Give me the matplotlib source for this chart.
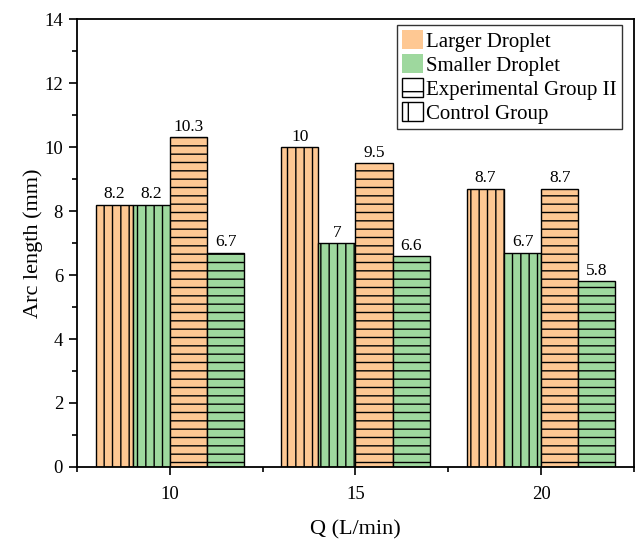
import numpy as np
import matplotlib.pyplot as plt
from matplotlib.patches import Patch
from matplotlib.ticker import MultipleLocator

plt.rcParams['font.family'] = ['Liberation Serif', 'DejaVu Serif']
plt.rcParams['hatch.color'] = '#333333'
plt.rcParams['hatch.linewidth'] = 1.0

flow = [10, 15, 20]
larger_control = [8.2, 10, 8.7]
smaller_control = [8.2, 7, 6.7]
larger_exp = [10.3, 9.5, 8.7]
smaller_exp = [6.7, 6.6, 5.8]

orange = '#FEC893'
green = '#9ED89E'

fig = plt.figure(figsize=(6.38, 5.39), dpi=100)
ax = fig.add_axes([0.1207, 0.1336, 0.8730, 0.8311])

x = np.array(flow, dtype=float)
w = 1.0
series = [
    (larger_control, orange, '||', -1.5),
    (smaller_control, green, '||', -0.5),
    (larger_exp, orange, '--', 0.5),
    (smaller_exp, green, '--', 1.5),
]
for vals, col, hatch, off in series:
    bars = ax.bar(x + off, vals, width=w, color=col, edgecolor='black',
                  hatch=hatch, linewidth=1.0)
    for b, v in zip(bars, vals):
        ax.text(b.get_x() + b.get_width() / 2, v + 0.07, f'{v:g}',
                ha='center', va='bottom', fontsize=12.5)

ax.set_xlim(7.5, 22.5)
ax.set_ylim(0, 14)
ax.set_xticks(flow)
ax.xaxis.set_minor_locator(MultipleLocator(2.5))
ax.yaxis.set_major_locator(MultipleLocator(2))
ax.yaxis.set_minor_locator(MultipleLocator(1))
ax.tick_params(axis='both', which='major', direction='out', length=6, width=1.2,
               labelsize=13.5)
ax.tick_params(axis='x', which='major', pad=8)
ax.tick_params(axis='y', which='major', pad=4)
ax.tick_params(axis='both', which='minor', direction='out', length=3.5, width=1.2)
for s in ax.spines.values():
    s.set_linewidth(1.3)

ax.set_xlabel('Q (L/min)', fontsize=16, labelpad=12)
ax.set_ylabel('Arc length (mm)', fontsize=16, labelpad=1)

handles = [
    Patch(facecolor=orange, edgecolor='none', label='Larger Droplet'),
    Patch(facecolor=green, edgecolor='none', label='Smaller Droplet'),
    Patch(facecolor='white', edgecolor='black', hatch='-', label='Experimental Group II'),
    Patch(facecolor='white', edgecolor='black', hatch='|', label='Control Group'),
]
leg = ax.legend(handles=handles, loc='upper right', fontsize=15, frameon=True,
                fancybox=False, edgecolor='black', handlelength=1.0,
                handleheight=1.0, handletextpad=0.15, labelspacing=0.12,
                borderpad=0.25, borderaxespad=0, bbox_to_anchor=(0.9785, 0.9866))
leg.get_frame().set_linewidth(1.0)

fig.savefig('out.png', dpi=100)
